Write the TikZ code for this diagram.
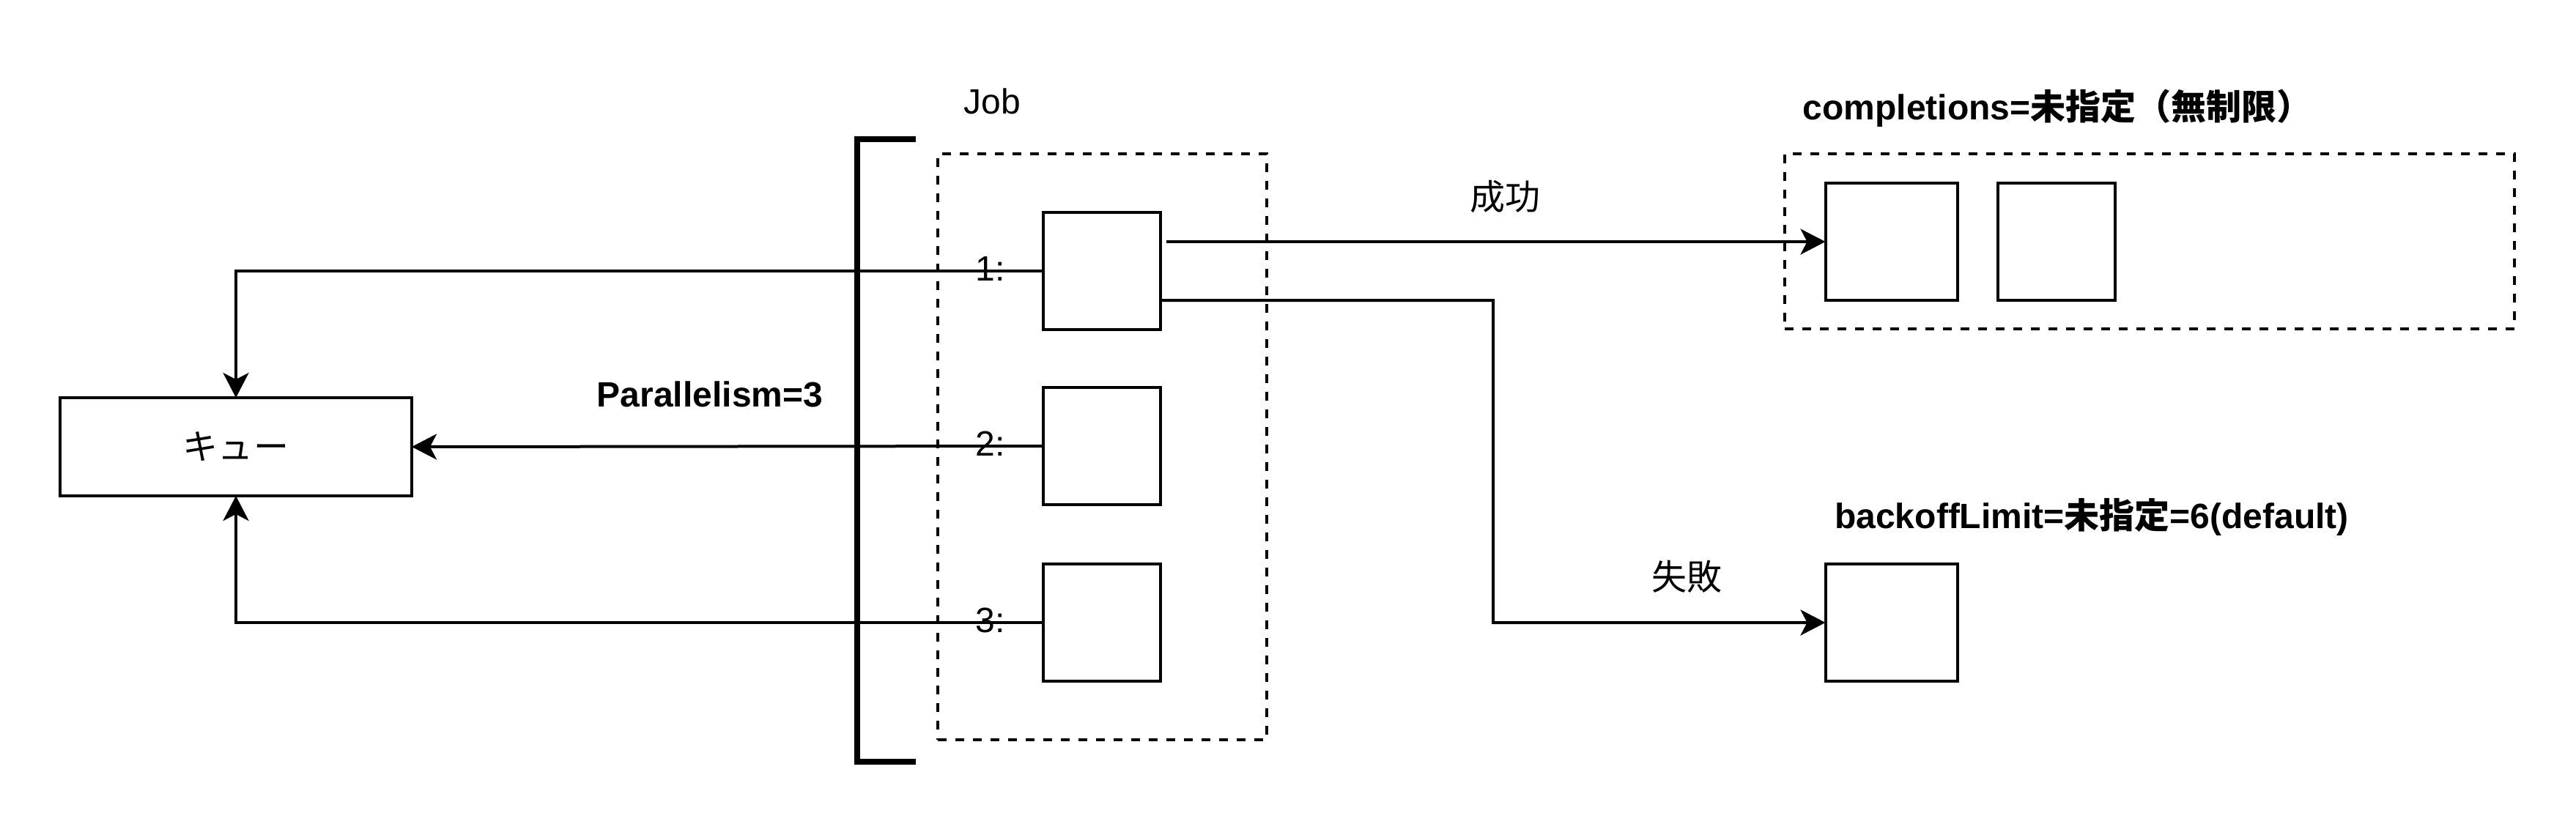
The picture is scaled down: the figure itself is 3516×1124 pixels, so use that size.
\documentclass[tikz,border=0pt]{standalone}
\usepackage{fontspec}
\setmainfont{Liberation Sans}
\newfontfamily\cjk{Noto Sans CJK JP}
\usepackage{tikz}
\usetikzlibrary{arrows.meta,positioning}
\tikzset{
  box/.style={draw,line width=0.4mm,fill=white,inner sep=0pt,outer sep=0pt,
              minimum width=16mm,minimum height=16mm},
  qbox/.style={box,minimum width=48mm,minimum height=13.4mm},
  wbox/.style={box,minimum width=18mm},
  frame/.style={draw,line width=0.4mm,dash pattern=on 1.2mm off 1.2mm,
                inner sep=0pt,outer sep=0pt},
  arr/.style={-{Stealth[length=3.4mm,width=3.5mm,inset=0.9mm]},line width=0.4mm},
  ln/.style={line width=0.4mm},
  brk/.style={line width=0.8mm},
  lbl/.style={inner sep=0pt,font=\fontsize{13.66pt}{16pt}\selectfont},
  blbl/.style={inner sep=0pt,font=\fontsize{13.66pt}{16pt}\selectfont\bfseries},
}

\begin{document}
\begin{tikzpicture}[x=0.1mm,y=-0.1mm]
\useasboundingbox (0,0) rectangle (3516,1124);
% frames
\node[frame,minimum width=44.9mm,minimum height=80mm] (jobframe) at (1504.5,610) {};
\node[frame,minimum width=99.6mm,minimum height=23.9mm] (okframe) at (2934,329.5) {};
\draw[brk] (1250,190) -| (1170,1040) -- (1250,1040);
% queue and pods
\node[qbox] (queue) at (322,610) {\fontsize{13.66pt}{16pt}\selectfont\cjk キュー};
\node[box] (p1) at (1504,370) {};
\node[box] (p2) at (1504,609) {};
\node[box] (p3) at (1504,850) {};
\node[wbox] (ok1) at (2581.5,330) {};
\node[box] (ok2) at (2807,330) {};
\node[wbox] (ng1) at (2581.5,850) {};
% labels
\node[lbl] (joblbl) at (1354,138) {Job};
\node[blbl] (parlbl) at (969,538) {Parallelism=3};
\node[blbl,anchor=west] (oklbl) at (2460,148) {completions={\cjk 未指定（無制限）}};
\node[blbl] (nglbl) at (2855,706) {backoffLimit={\cjk 未指定}=6(default)};
\node[lbl] (okedge) at (2054,268) {\cjk 成功};
\node[lbl] (ngedge) at (2302,787) {\cjk 失敗};
% connectors back to the queue
\draw[arr] (p1.west) -| (queue.north);
\draw[arr] (p2.west) -- (queue.east);
\draw[arr] (p3.west) -| (queue.south);
\node[lbl] (l1) at (1352,367) {1:};
\node[lbl] (l2) at (1352,606) {2:};
\node[lbl] (l3) at (1352,847) {3:};
% success / failure
\coordinate (okstart) at (1592,330);
\coordinate (ngstart) at ([yshift=-4mm]p1.east);
\coordinate (ngbend) at (2038,410);
\draw[arr] (okstart) -- (ok1.west);
\draw[arr] (ngstart) -- (ngbend) |- (ng1.west);
\end{tikzpicture}
\end{document}
